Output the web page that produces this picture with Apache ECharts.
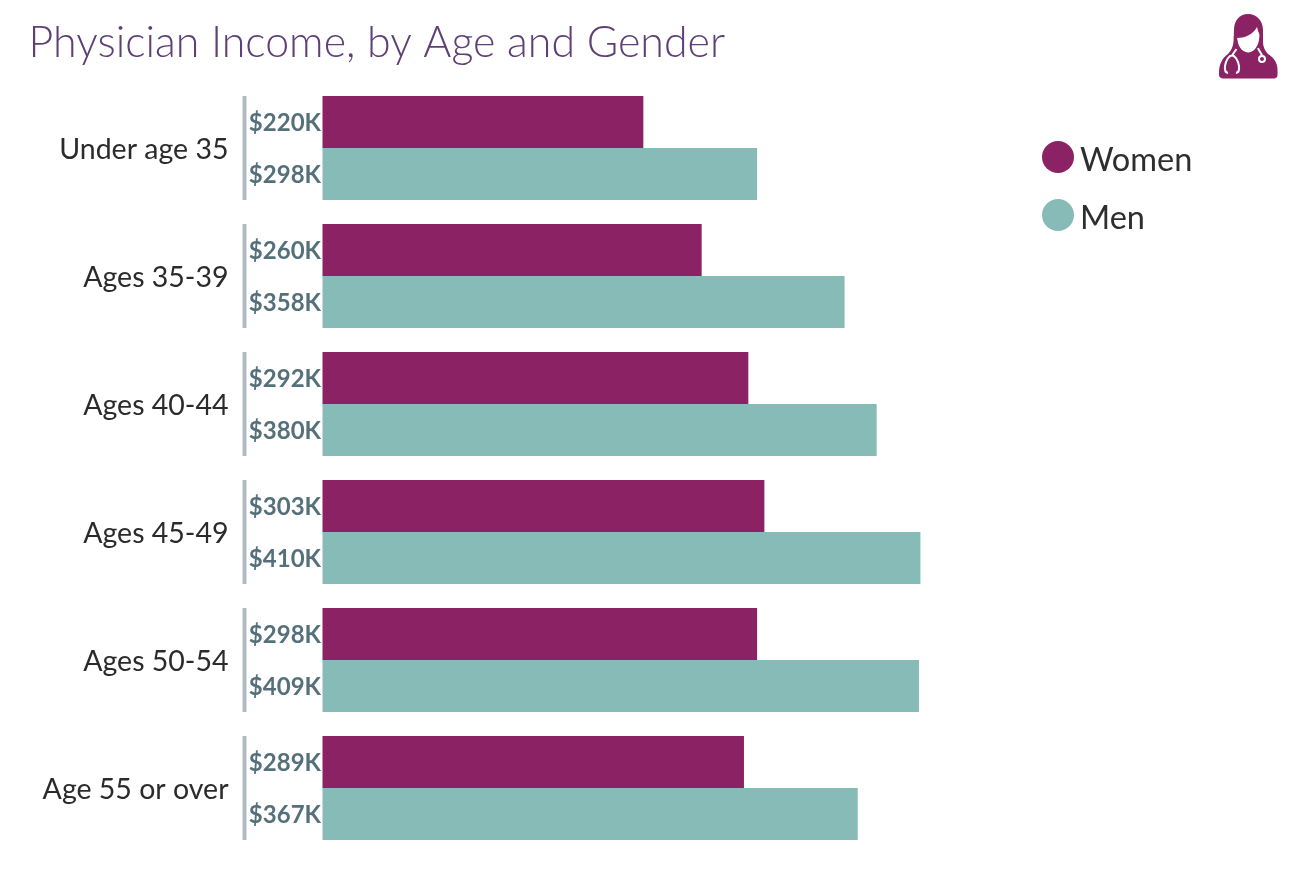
<!DOCTYPE html>
<html><head><meta charset="utf-8">
<style>html,body{margin:0;padding:0;background:#fff}#c{width:1290px;height:878px}</style>
<script src="https://cdn.jsdelivr.net/npm/echarts@6/dist/echarts.min.js"></script>
</head><body><div id="c"></div>
<script>
const categories = ["Under age 35","Ages 35-39","Ages 40-44","Ages 45-49","Ages 50-54","Age 55 or over"];
const women = [220,260,292,303,298,289];
const men = [298,358,380,410,409,367];
const seriesNames = ["Women","Men"];
const titleText = "Physician Income, by Age and Gender";
const FONT = "Lato";
const chart = echarts.init(document.getElementById('c'), null, {renderer:'canvas'});
const hair = "M1248 14 C1239 14 1234 21 1234 30 L1233.5 42 C1233 47 1231 51 1228 54 C1222 58 1219 65 1219 72 L1219 75 C1219 77 1221 78.5 1223 78.5 L1274 78.5 C1276 78.5 1277.5 77 1277.5 75 L1277.5 70 C1277.5 62 1273 57 1268 54 C1265 51 1263 47 1263 42 L1263 30 C1263 21 1257 14 1248 14 Z";
const face = "M1237 38 C1244 38 1253 35 1257 27 C1258 31 1259 33 1259.5 35 L1259 40 C1258 47 1253 52.5 1248.5 52.5 C1243 52.5 1238 47 1237.5 40 Z";
const steth = "M1228 73 C1225 72.5 1224.5 70 1225 66 C1226 60 1229 55.5 1232 55.5 C1235 55.5 1238 60 1239 66 C1239.5 70 1239 72.5 1236 73 M1232 55.5 L1236.5 49";
const steth2 = "M1258 48 C1259 51 1261.5 53 1262 56";
const labelStyle = {show:true,position:'left',distance:1.5,offset:[0,1],formatter:p=>"$"+p.value+"K",fontFamily:FONT,fontSize:24,fontWeight:700,color:"#55707a"};
chart.setOption({
  animation:false,
  title:{text:titleText,left:23.5,top:17,textStyle:{fontFamily:FONT,fontWeight:300,fontSize:42.9,color:"#5f3f78"}},
  legend:{orient:'vertical',left:1037,top:136,icon:'circle',itemWidth:32,itemHeight:32,itemGap:22,
    data:seriesNames,formatter:'{a|{name}}',
    textStyle:{rich:{a:{fontFamily:FONT,fontSize:32.5,color:"#2e2e2e",padding:[7,0,0,1]}}}},
  grid:{left:322.5,top:84,width:875,height:768},
  xAxis:{type:'value',min:0,max:600,show:false},
  yAxis:{type:'category',inverse:true,data:categories,
    axisLine:{show:false},axisTick:{show:false},
    axisLabel:{margin:94,formatter:'{a|{value}}',rich:{a:{fontFamily:FONT,fontSize:28.5,color:"#2b2b2b",padding:[4,0,0,0]}}}},
  series:[
    {name:seriesNames[0],type:'bar',data:women,barWidth:52,barGap:0,itemStyle:{color:"#8a2263"},label:labelStyle},
    {name:seriesNames[1],type:'bar',data:men,barWidth:52,itemStyle:{color:"#86bbb7"},label:labelStyle},
    {type:'custom',silent:true,clip:false,data:categories.map((c,i)=>[0,i]),encode:{x:0,y:1},
     renderItem:(params,api)=>{
       const p=api.coord([0,api.value(1)]);
       const b=api.size([0,1])[1];
       return {type:'rect',shape:{x:p[0]-80,y:p[1]-b*52/128,width:4,height:b*104/128},style:{fill:"#afbbc0"}};
     }},
    {type:'custom',silent:true,clip:false,data:[[0,0]],encode:{x:0,y:1},
     renderItem:()=>({type:'group',children:[
       {type:'path',shape:{pathData:hair},style:{fill:"#8a2263"}},
       {type:'path',shape:{pathData:face},style:{fill:"#fff"}},
       {type:'path',shape:{pathData:steth},style:{fill:"none",stroke:"#fff",lineWidth:2}},
       {type:'path',shape:{pathData:steth2},style:{fill:"none",stroke:"#fff",lineWidth:2}},
       {type:'circle',shape:{cx:1262,cy:59,r:3},style:{fill:"#8a2263",stroke:"#fff",lineWidth:2}}
     ]})}
  ]
});
</script></body></html>
